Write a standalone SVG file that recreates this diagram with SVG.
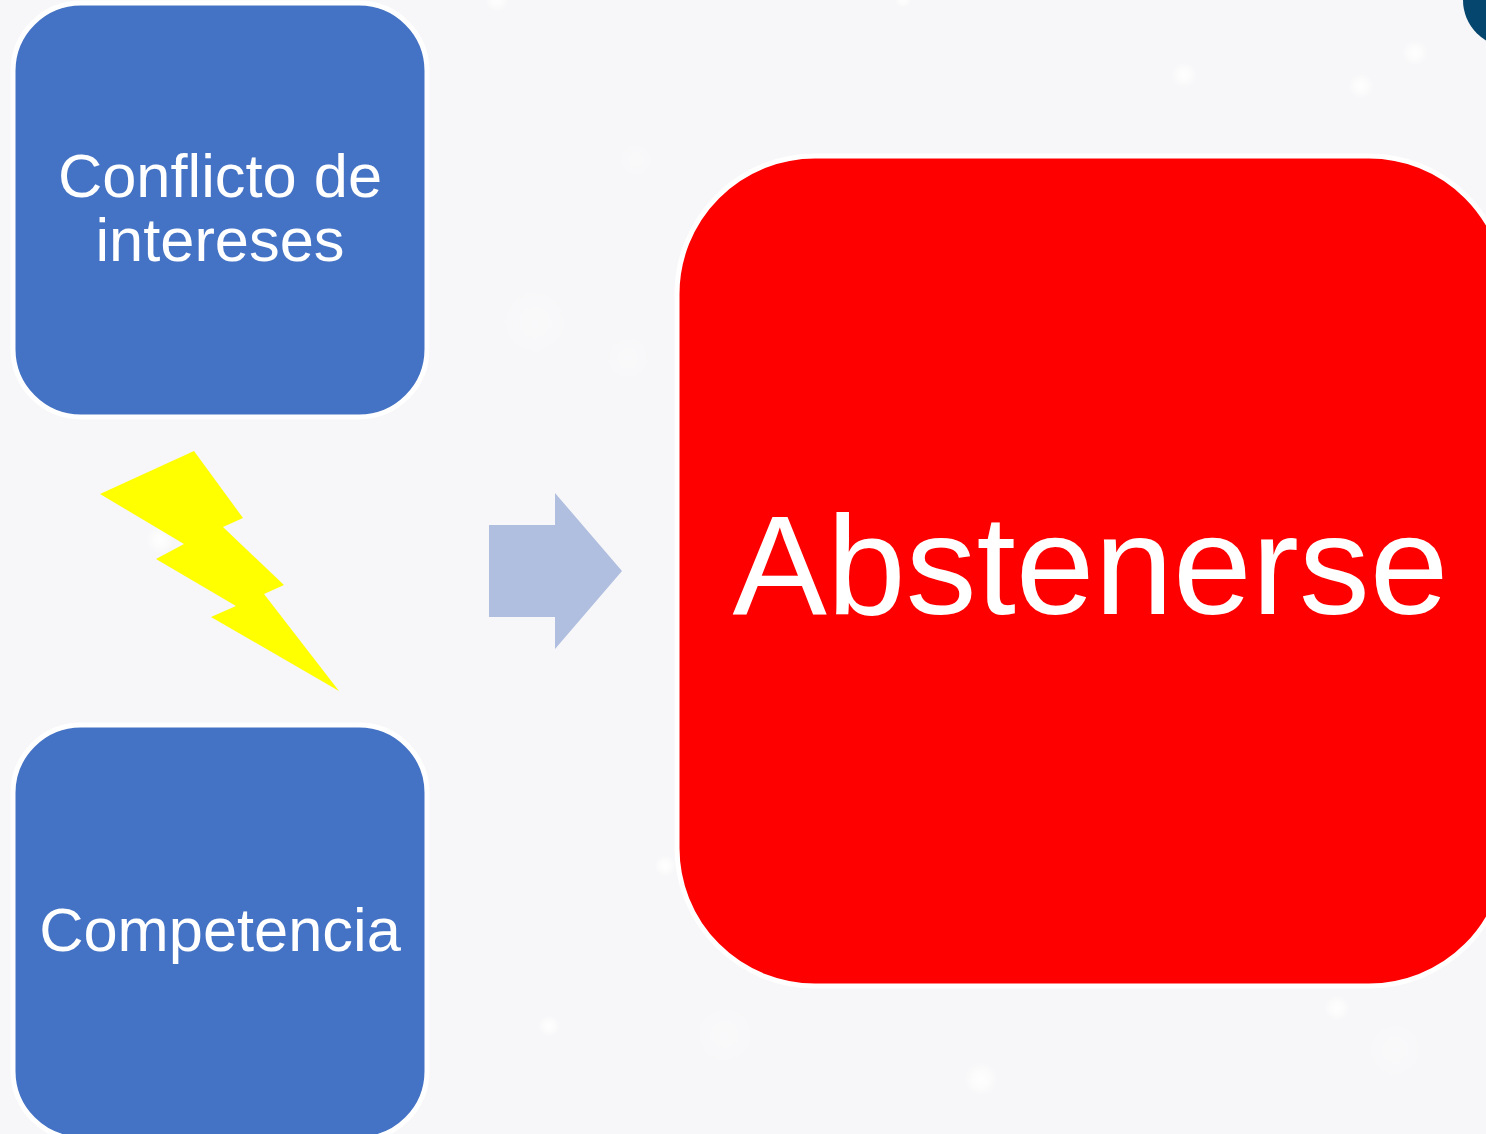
<svg xmlns="http://www.w3.org/2000/svg" width="1486" height="1134" viewBox="0 0 1486 1134">
<style>
.box{fill:#4472c4;stroke:#fff;stroke-width:5}
.t{font-family:"Liberation Sans",Arial,sans-serif;fill:#fff;text-anchor:middle}
.m{font-size:61.4px}
.g{fill:url(#glow)}
.f{fill:url(#glow);opacity:.3}
</style>
<defs>
<radialGradient id="glow"><stop offset="0" stop-color="#fff" stop-opacity=".95"/><stop offset=".5" stop-color="#fff" stop-opacity=".6"/><stop offset="1" stop-color="#fff" stop-opacity="0"/></radialGradient>
</defs>
<rect width="1486" height="1134" fill="#f7f7f9"/>
<g id="background">
<circle class="g" cx="1415" cy="53" r="13"/>
<circle class="g" cx="1184" cy="75" r="13"/>
<circle class="g" cx="1361" cy="86" r="13"/>
<circle class="f" cx="636" cy="160" r="18"/>
<circle class="g" cx="665" cy="866" r="11"/>
<circle class="g" cx="527" cy="1026" r="0"/>
<circle class="g" cx="549" cy="1026" r="11"/>
<circle class="g" cx="981" cy="1079" r="17"/>
<circle class="g" cx="1337" cy="1008" r="13"/>
<circle class="g" cx="160" cy="540" r="14"/>
<circle class="g" cx="497" cy="0" r="12"/>
<circle class="g" cx="903" cy="0" r="8"/>
<circle class="f" cx="628" cy="358" r="24"/>
<circle class="f" cx="535" cy="322" r="36"/>
<circle class="f" cx="725" cy="1035" r="32"/>
<circle class="f" cx="1395" cy="1050" r="30"/>
</g>
<circle id="corner" cx="1510" cy="0" r="47" fill="#04466e"/>
<g id="connectors">
<polygon points="489,525 555,525 555,493 622,571 555,649 555,617 489,617" fill="#b0bedf"/>
</g>
<g id="lightning"><polygon points="194,451 243,518 223,527 284,585 264,594 339,691 211,617 236,606 156,559 184,544 100,494" fill="#ffff00"/></g>
<g id="conflicto">
<rect class="box" x="13" y="3" width="414" height="414" rx="68"/>
<text class="t m" x="220" y="197">Conflicto de</text>
<text class="t m" x="220" y="261">intereses</text>
</g>
<g id="competencia">
<rect class="box" x="13" y="725" width="414" height="414" rx="68"/>
<text class="t m" x="220" y="951">Competencia</text>
</g>
<g id="abstenerse">
<rect class="box" x="677" y="156" width="830" height="830" rx="138" style="fill:#ff0000"/>
<text class="t" x="1090.500" y="614" font-size="141.500">Abstenerse</text>
</g>
</svg>
